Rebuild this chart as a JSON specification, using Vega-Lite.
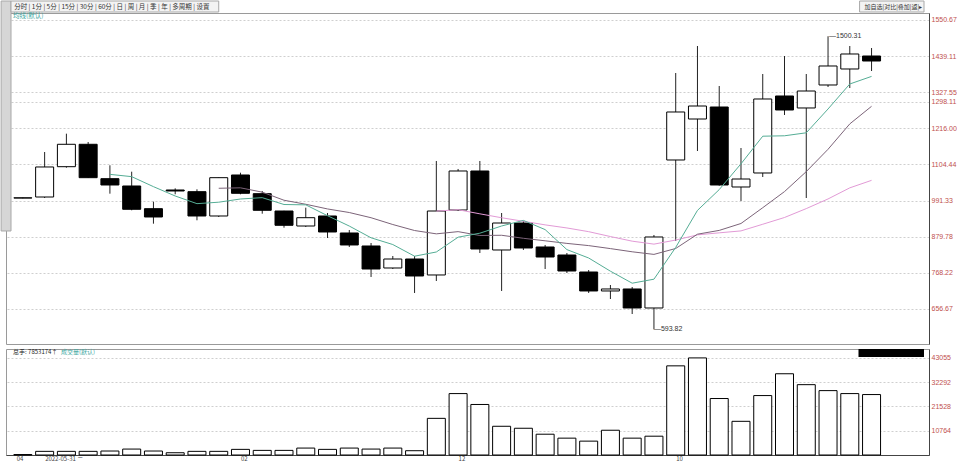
{
  "$schema": "https://vega.github.io/schema/vega-lite/v6.json",
  "padding": 0,
  "background": "#ffffff",
  "spacing": 3,
  "datasets": {
    "k": [
      {"i": 1, "o": 1000.0, "h": 1001.5, "l": 999.0, "c": 1000.5, "v": 200},
      {"i": 2, "o": 1003.1, "h": 1142.3, "l": 1000.0, "c": 1096.0, "v": 1620},
      {"i": 3, "o": 1096.9, "h": 1199.0, "l": 1093.8, "c": 1166.2, "v": 1620},
      {"i": 4, "o": 1166.2, "h": 1173.3, "l": 1062.0, "c": 1062.9, "v": 1620},
      {"i": 5, "o": 1059.8, "h": 1101.2, "l": 1013.4, "c": 1040.3, "v": 1760},
      {"i": 6, "o": 1037.2, "h": 1081.4, "l": 962.0, "c": 965.1, "v": 2630},
      {"i": 7, "o": 967.0, "h": 988.6, "l": 920.6, "c": 941.3, "v": 1760},
      {"i": 8, "o": 1024.8, "h": 1030.0, "l": 1011.5, "c": 1021.7, "v": 1000},
      {"i": 9, "o": 1019.6, "h": 1027.0, "l": 931.1, "c": 944.4, "v": 1620},
      {"i": 10, "o": 944.4, "h": 1063.5, "l": 941.3, "c": 1062.9, "v": 1620},
      {"i": 11, "o": 1071.2, "h": 1078.3, "l": 1011.5, "c": 1014.6, "v": 2500},
      {"i": 12, "o": 1013.4, "h": 1021.7, "l": 951.5, "c": 962.0, "v": 2050},
      {"i": 13, "o": 959.8, "h": 960.5, "l": 908.2, "c": 915.6, "v": 2050},
      {"i": 14, "o": 913.4, "h": 970.1, "l": 910.3, "c": 939.1, "v": 3070},
      {"i": 15, "o": 944.4, "h": 953.6, "l": 876.3, "c": 894.9, "v": 2500},
      {"i": 16, "o": 891.8, "h": 901.0, "l": 848.5, "c": 854.7, "v": 3070},
      {"i": 17, "o": 851.6, "h": 860.8, "l": 755.7, "c": 780.4, "v": 2630},
      {"i": 18, "o": 783.5, "h": 820.6, "l": 780.4, "c": 811.3, "v": 3070},
      {"i": 19, "o": 811.3, "h": 820.6, "l": 706.2, "c": 758.8, "v": 1900},
      {"i": 20, "o": 761.9, "h": 1114.5, "l": 743.3, "c": 959.8, "v": 16250},
      {"i": 21, "o": 962.9, "h": 1089.8, "l": 959.8, "c": 1083.6, "v": 27230},
      {"i": 22, "o": 1083.6, "h": 1114.5, "l": 829.9, "c": 842.3, "v": 22400},
      {"i": 23, "o": 839.2, "h": 953.6, "l": 712.4, "c": 922.7, "v": 12740},
      {"i": 24, "o": 922.7, "h": 928.9, "l": 839.2, "c": 845.4, "v": 11860},
      {"i": 25, "o": 848.5, "h": 854.7, "l": 780.4, "c": 817.5, "v": 9220},
      {"i": 26, "o": 823.7, "h": 829.9, "l": 768.0, "c": 774.2, "v": 7470},
      {"i": 27, "o": 771.1, "h": 777.3, "l": 706.2, "c": 712.4, "v": 6150},
      {"i": 28, "o": 712.4, "h": 730.9, "l": 687.6, "c": 718.6, "v": 10980},
      {"i": 29, "o": 718.6, "h": 724.7, "l": 641.2, "c": 659.8, "v": 7470},
      {"i": 30, "o": 659.8, "h": 885.6, "l": 593.82, "c": 879.4, "v": 8340},
      {"i": 31, "o": 1117.6, "h": 1386.7, "l": 867.0, "c": 1266.1, "v": 39530},
      {"i": 32, "o": 1244.4, "h": 1470.2, "l": 1145.4, "c": 1284.6, "v": 43050},
      {"i": 33, "o": 1281.5, "h": 1346.5, "l": 1038.0, "c": 1040.3, "v": 25040},
      {"i": 34, "o": 1034.1, "h": 1154.7, "l": 990.8, "c": 1058.8, "v": 14930},
      {"i": 35, "o": 1077.4, "h": 1383.6, "l": 1065.0, "c": 1306.3, "v": 26350},
      {"i": 36, "o": 1315.6, "h": 1439.3, "l": 1256.8, "c": 1272.3, "v": 36020},
      {"i": 37, "o": 1278.5, "h": 1383.6, "l": 1000.0, "c": 1331.0, "v": 31190},
      {"i": 38, "o": 1349.6, "h": 1500.31, "l": 1343.4, "c": 1408.4, "v": 28550},
      {"i": 39, "o": 1399.1, "h": 1470.2, "l": 1340.3, "c": 1445.5, "v": 27230},
      {"i": 40, "o": 1439.3, "h": 1464.0, "l": 1392.9, "c": 1423.8, "v": 26800}
    ]
  },
  "config": {
    "view": {"stroke": "#9a9a9a", "strokeWidth": 1},
    "font": "Noto Sans CJK SC",
    "axis": {
      "labelFont": "Liberation Sans",
      "labelFontSize": 7,
      "ticks": false,
      "title": null,
      "labelOverlap": false,
      "domainColor": "#444444",
      "gridColor": "#cfcfcf",
      "gridDash": [2, 2],
      "gridWidth": 1
    },
    "text": {"font": "Noto Sans CJK SC", "fontSize": 7}
  },
  "vconcat": [
    {
      "width": 923,
      "height": 331,
      "data": {"name": "k"},
      "encoding": {
        "x": {"field": "i", "type": "quantitative", "scale": {"domain": [0.4545, 42.41], "nice": false, "zero": false}, "axis": null}
      },
      "layer": [
        {
          "mark": {"type": "rule", "color": "#222222", "strokeWidth": 1},
          "encoding": {
            "y": {
              "field": "l", "type": "quantitative",
              "scale": {"domain": [548.4, 1572.32], "nice": false, "zero": false},
              "axis": {
                "orient": "right",
                "values": [656.67, 768.22, 879.78, 991.33, 1104.44, 1216.0, 1298.11, 1327.55, 1439.11, 1550.67],
                "tickCount": 30,
                "labelExpr": "format(datum.value, '.2f')",
                "labelColor": "#c0504d",
                "labelPadding": 2,
                "labelOverlap": false,
                "grid": true
              }
            },
            "y2": {"field": "h"}
          }
        },
        {
          "mark": {"type": "bar", "size": 18, "stroke": "#000000", "strokeWidth": 1},
          "encoding": {
            "y": {"field": "o", "type": "quantitative"},
            "y2": {"field": "c"},
            "fill": {"condition": {"test": "datum.c < datum.o", "value": "#000000"}, "value": "#ffffff"}
          }
        },
        {
          "transform": [
            {"window": [{"op": "mean", "field": "c", "as": "ma"}, {"op": "count", "as": "n"}], "frame": [-19, 0], "sort": [{"field": "i"}]},
            {"filter": "datum.n == 20"}
          ],
          "mark": {"type": "line", "color": "#e29ad6", "strokeWidth": 1},
          "encoding": {"y": {"field": "ma", "type": "quantitative"}}
        },
        {
          "transform": [
            {"window": [{"op": "mean", "field": "c", "as": "ma"}, {"op": "count", "as": "n"}], "frame": [-9, 0], "sort": [{"field": "i"}]},
            {"filter": "datum.n == 10"}
          ],
          "mark": {"type": "line", "color": "#7c6479", "strokeWidth": 1},
          "encoding": {"y": {"field": "ma", "type": "quantitative"}}
        },
        {
          "transform": [
            {"window": [{"op": "mean", "field": "c", "as": "ma"}, {"op": "count", "as": "n"}], "frame": [-4, 0], "sort": [{"field": "i"}]},
            {"filter": "datum.n == 5"}
          ],
          "mark": {"type": "line", "color": "#55ad95", "strokeWidth": 1},
          "encoding": {"y": {"field": "ma", "type": "quantitative"}}
        },
        {
          "transform": [{"filter": "datum.i == 38"}],
          "mark": {"type": "text", "align": "left", "baseline": "middle", "dx": 1, "font": "Liberation Sans", "fontSize": 7, "color": "#333333"},
          "encoding": {"y": {"field": "h", "type": "quantitative"}, "text": {"value": "—"}}
        },
        {
          "transform": [{"filter": "datum.i == 38"}],
          "mark": {"type": "text", "align": "left", "baseline": "middle", "dx": 8, "font": "Liberation Sans", "fontSize": 7, "color": "#333333"},
          "encoding": {"y": {"field": "h", "type": "quantitative"}, "text": {"field": "h", "type": "quantitative", "format": ".2f"}}
        },
        {
          "transform": [{"filter": "datum.i == 30"}],
          "mark": {"type": "text", "align": "left", "baseline": "middle", "dx": 0, "font": "Liberation Sans", "fontSize": 7, "color": "#333333"},
          "encoding": {"y": {"field": "l", "type": "quantitative"}, "text": {"value": "—"}}
        },
        {
          "transform": [{"filter": "datum.i == 30"}],
          "mark": {"type": "text", "align": "left", "baseline": "middle", "dx": 7, "font": "Liberation Sans", "fontSize": 7, "color": "#333333"},
          "encoding": {"y": {"field": "l", "type": "quantitative"}, "text": {"field": "l", "type": "quantitative", "format": ".2f"}}
        },
        {
          "transform": [{"filter": "datum.i == 1"}],
          "mark": {"type": "rect", "fill": "#d6d6d6", "stroke": "#a8a8a8", "strokeWidth": 1},
          "encoding": {"x": {"datum": 0}, "x2": {"datum": 0.4545}, "y": {"datum": 1609.4}, "y2": {"datum": 898}}
        },
        {
          "transform": [{"filter": "datum.i == 1"}],
          "mark": {"type": "rect", "fill": "#f3f3f3", "stroke": "#a8a8a8", "strokeWidth": 1},
          "encoding": {"x": {"datum": 0.4545}, "x2": {"datum": 10.0}, "y": {"datum": 1609.4}, "y2": {"datum": 1575.4}}
        },
        {
          "transform": [{"filter": "datum.i == 1"}],
          "mark": {"type": "text", "align": "left", "baseline": "middle", "fontSize": 6.5, "color": "#333333"},
          "encoding": {"x": {"datum": 0.6}, "y": {"datum": 1592.4}, "text": {"value": "分时 | 1分 | 5分 | 15分 | 30分 | 60分 | 日 | 周 | 月 | 季 | 年 | 多周期 | 设置"}}
        },
        {
          "transform": [{"filter": "datum.i == 1"}],
          "mark": {"type": "rect", "fill": "#f3f3f3", "stroke": "#a8a8a8", "strokeWidth": 1},
          "encoding": {"x": {"datum": 39.45}, "x2": {"datum": 42.41}, "y": {"datum": 1609.4}, "y2": {"datum": 1575.4}}
        },
        {
          "transform": [{"filter": "datum.i == 1"}],
          "mark": {"type": "text", "align": "right", "baseline": "middle", "fontSize": 6, "color": "#333333", "dx": -2},
          "encoding": {"x": {"datum": 42.41}, "y": {"datum": 1592.4}, "text": {"value": "加自选|对比|叠加|返|▸"}}
        },
        {
          "transform": [{"filter": "datum.i == 1"}],
          "mark": {"type": "text", "align": "left", "baseline": "middle", "fontSize": 6.5, "color": "#3aa6a0"},
          "encoding": {"x": {"datum": 0.55}, "y": {"datum": 1562}, "text": {"value": "均线(默认)"}}
        }
      ]
    },
    {
      "width": 923,
      "height": 106,
      "data": {"name": "k"},
      "encoding": {
        "x": {
          "field": "i", "type": "quantitative",
          "scale": {"domain": [0.4545, 42.41], "nice": false, "zero": false},
          "axis": {
            "values": [1, 2, 11, 21, 31],
            "tickCount": 20,
            "labelExpr": "datum.value == 1 ? '04' : datum.value == 2 ? '2022-05-31 二' : datum.value == 11 ? '02' : datum.value == 21 ? '12' : '10'",
            "labelAlign": {"condition": {"test": "datum.value == 1", "value": "right"}, "value": "left"},
            "labelBaseline": "top",
            "labelFlush": false,
            "labelOverlap": false,
            "labelPadding": 0,
            "labelColor": "#444444",
            "labelFont": "Noto Sans CJK SC",
            "labelFontSize": 6,
            "grid": false
          }
        }
      },
      "layer": [
        {
          "mark": {"type": "bar", "size": 18, "fill": "#ffffff", "stroke": "#000000", "strokeWidth": 1},
          "encoding": {
            "y": {
              "field": "v", "type": "quantitative",
              "scale": {"domain": [0, 47000], "nice": false, "zero": true},
              "axis": {"orient": "right", "values": [10764, 21528, 32292, 43055], "tickCount": 20, "format": "d", "labelColor": "#c0504d", "labelPadding": 2, "labelOverlap": false, "grid": true}
            }
          }
        },
        {
          "transform": [{"filter": "datum.i == 1"}],
          "mark": {"type": "rect", "fill": "#000000"},
          "encoding": {"x": {"datum": 39.4}, "x2": {"datum": 42.41}, "y": {"datum": 43500}, "y2": {"datum": 47000}}
        },
        {
          "transform": [{"filter": "datum.i == 1"}],
          "mark": {"type": "text", "align": "left", "baseline": "middle", "fontSize": 6, "color": "#222222"},
          "encoding": {"x": {"datum": 0.55}, "y": {"datum": 45600}, "text": {"value": "总手: 7853174↑"}}
        },
        {
          "transform": [{"filter": "datum.i == 1"}],
          "mark": {"type": "text", "align": "left", "baseline": "middle", "fontSize": 6, "color": "#3aa6a0"},
          "encoding": {"x": {"datum": 2.75}, "y": {"datum": 45600}, "text": {"value": "成交量(默认)"}}
        }
      ]
    }
  ]
}
